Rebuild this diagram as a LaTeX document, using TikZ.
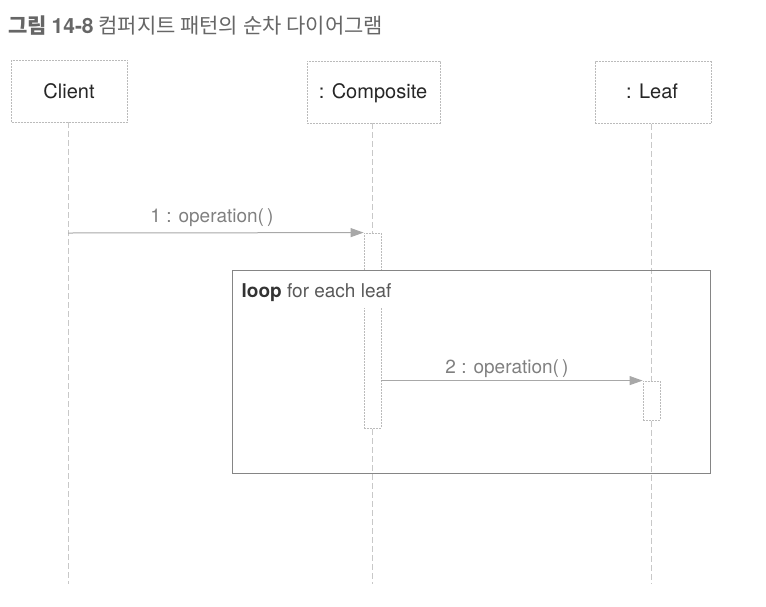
\documentclass[tikz,border=0pt]{standalone}
\usepackage{fontspec}
\setmainfont{TeX Gyre Heros}
\newfontfamily\kr{Noto Sans CJK KR}
\usepackage{tikz}
\usetikzlibrary{arrows.meta}
\usepackage{xcolor}
\definecolor{boxline}{HTML}{BBBBBB}
\definecolor{lifeline}{HTML}{C8C8C8}
\definecolor{msg}{HTML}{A8A8A8}
\definecolor{frameline}{HTML}{858585}
\definecolor{msgtext}{HTML}{808080}
\definecolor{titletext}{HTML}{666666}

\begin{document}
\begin{tikzpicture}[x=1pt,y=-1pt,
    objbox/.style={draw=boxline,dash pattern=on 2pt off 1pt,line width=0.8pt,fill=white,
        minimum height=62pt,inner sep=0pt},
    objname/.style={anchor=base,font=\fontsize{20}{24}\selectfont,text=black!85},
    life/.style={draw=lifeline,dash pattern=on 6pt off 3pt,line width=0.8pt},
    act/.style={draw=boxline,dash pattern=on 2pt off 1pt,line width=0.8pt,fill=white,
        minimum width=17pt,inner sep=0pt},
    call/.style={draw=msg,line width=1pt,-{Triangle[length=13pt,width=9pt]}},
    calltext/.style={font=\fontsize{19}{23}\selectfont,text=msgtext,anchor=base}]
\useasboundingbox (0,0) rectangle (766,606);
%title
\node[anchor=base west,inner sep=0pt,text=titletext] (title) at (8,33)
    {\kr\fontsize{21}{25}\selectfont\textbf{그림 {\rmfamily 14-8}} 컴퍼지트 패턴의 순차 다이어그램};
%objects
\node[objbox,minimum width=116pt] (client) at (69.5,91) {};
\node[objbox,minimum width=133pt] (comp) at (373.5,92) {};
\node[objbox,minimum width=116pt] (leaf) at (653,92.5) {};
\node[objname] (clientname) at (69,98) {Client};
\node[objname] (compname) at (373,98) {: Composite};
\node[objname] (leafname) at (652,98) {: Leaf};
%lifelines
\coordinate (clientend) at (68,584);
\coordinate (compend) at (372,584);
\coordinate (leafend) at (651,584);
\draw[life] (client.south -| clientend) -- (clientend);
\draw[life] (comp.south -| compend) -- (compend);
\draw[life] (leaf.south -| leafend) -- (leafend);
%activations
\node[act,minimum height=195pt] (act1) at (372.5,330.5) {};
\node[act,minimum height=39pt] (act2) at (651.5,400.5) {};
%guard
\coordinate (framecorner) at (231.5,269.5);
\node[anchor=north west,fill=white,inner xsep=10pt,inner ysep=0pt,text height=28pt,text depth=10pt,
    font=\fontsize{19}{23}\selectfont,text=black!80]
    (guard) at (framecorner) {\textbf{loop} {\color{black!65}for each leaf}};
%loop frame
\node[draw=frameline,line width=1.4pt,minimum width=478pt,minimum height=203pt,inner sep=0pt,
    anchor=north west] (frame) at (framecorner) {};
%messages
\coordinate (send1) at (68,233);
\draw[call] (send1) -- (act1.north west);
\node[calltext] (msg1) at (212,222) {1 : operation(\,)};
\draw[call] (act1.east |- act2.north) -- (act2.north west);
\node[calltext] (msg2) at (507,373) {2 : operation(\,)};
\end{tikzpicture}
\end{document}
